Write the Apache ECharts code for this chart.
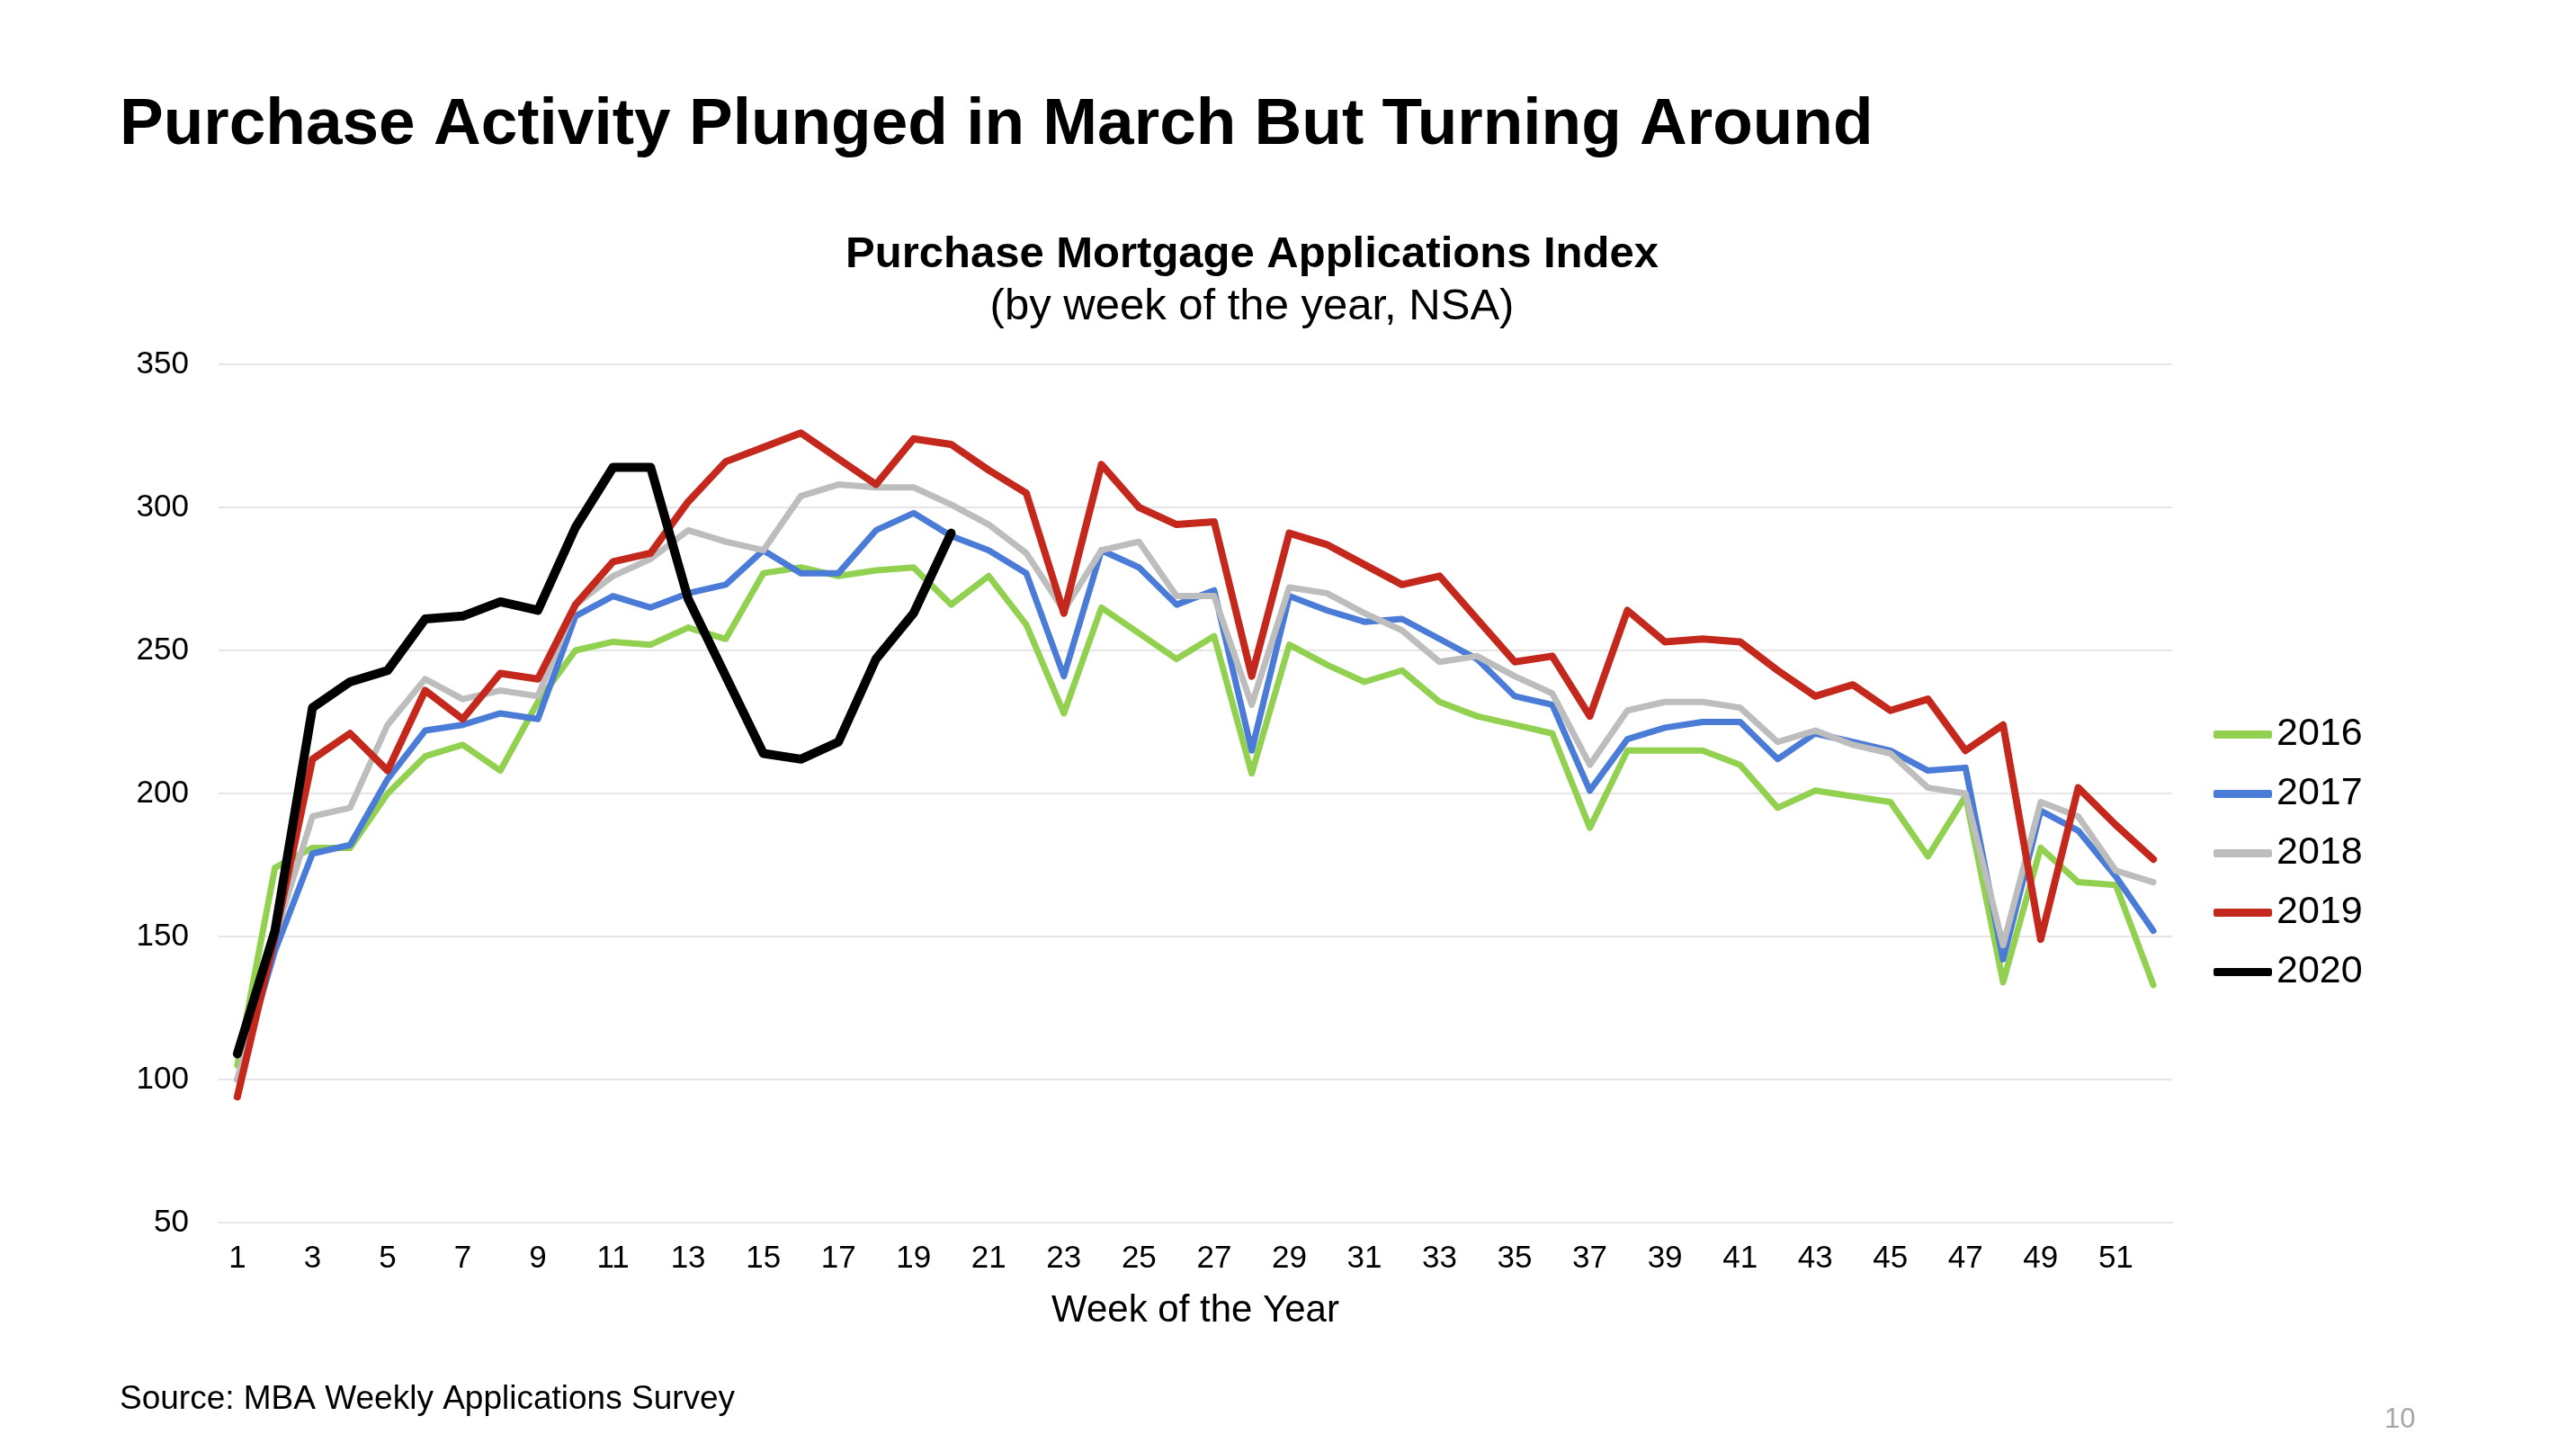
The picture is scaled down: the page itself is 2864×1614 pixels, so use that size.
<!DOCTYPE html>
<html>
<head>
<meta charset="utf-8">
<script src="https://cdn.jsdelivr.net/npm/echarts@6/dist/echarts.min.js"></script>
<style>
html,body{margin:0;padding:0;background:#fff;}
#chart{width:2864px;height:1614px;}
</style>
</head>
<body>
<div id="chart"></div>
<script>
const weeks = ['1','2','3','4','5','6','7','8','9','10','11','12','13','14','15','16','17','18','19','20','21','22','23','24','25','26','27','28','29','30','31','32','33','34','35','36','37','38','39','40','41','42','43','44','45','46','47','48','49','50','51','52'];
const yTicks = [50, 100, 150, 200, 250, 300, 350];
const seriesNames = ['2016', '2017', '2018', '2019', '2020'];

const d2016 = [105,174,181,181,200,213,217,208,232,250, 253,252,258,254,277,279,276,278,279,266, 276,259,228,265,256,247,255,207,252,245, 239,243,232,227,224,221,188,215,215,215, 210,195,201,199,197,178,199,134,181,169, 168,133];
const d2017 = [100,145,179,182,205,222,224,228,226,262, 269,265,270,273,285,277,277,292,298,290, 285,277,241,285,279,266,271,215,269,264, 260,261,254,247,234,231,201,219,223,225, 225,212,221,218,215,208,209,142,194,187, 171,152];
const d2018 = [100,150,192,195,224,240,233,236,234,266, 276,282,292,288,285,304,308,307,307,301, 294,284,264,285,288,269,269,231,272,270, 263,257,246,248,241,235,210,229,232,232, 230,218,222,217,214,202,200,147,197,192, 173,169];
const d2019 = [94,150,212,221,208,236,226,242,240,266, 281,284,302,316,321,326,317,308,324,322, 313,305,263,315,300,294,295,241,291,287, 280,273,276,261,246,248,227,264,253,254, 253,243,234,238,229,233,215,224,149,202, 189,177];
const d2020 = [109,152,230,239,243,261,262,267,264,293, 314,314,268,241,214,212,218,247,263,291];

const seriesData = [d2016, d2017, d2018, d2019, d2020];
const colors = ['#92D050', '#4A7BD6', '#BDBDBD', '#C4281C', '#000000'];
const widths = [7, 7, 7, 8, 10];

const FONT = "'Liberation Sans', Arial, Helvetica, sans-serif";
const chart = echarts.init(document.getElementById('chart'), null, {renderer: 'canvas'});

const option = {
  backgroundColor: '#ffffff',
  animation: false,
  textStyle: {fontFamily: FONT, color: '#000'},
  title: [
    {text: 'Purchase Activity Plunged in March But Turning Around', left: 128, top: 98,
     textStyle: {fontFamily: FONT, fontSize: 73, fontWeight: 'bold', color: '#000'}},
    {text: 'Purchase Mortgage Applications Index', left: 1387, top: 254, textAlign: 'center',
     textStyle: {fontFamily: FONT, fontSize: 49, fontWeight: 'bold', color: '#000'}},
    {text: '(by week of the year, NSA)', left: 1387, top: 312, textAlign: 'center',
     textStyle: {fontFamily: FONT, fontSize: 49, fontWeight: 'normal', color: '#000'}},
    {text: 'Source: MBA Weekly Applications Survey', left: 128, top: 1532,
     textStyle: {fontFamily: FONT, fontSize: 37, fontWeight: 'normal', color: '#000'}},
    {text: '10', left: 2646, top: 1558,
     textStyle: {fontFamily: FONT, fontSize: 31, fontWeight: 'normal', color: '#A6A6A6'}}
  ],
  legend: {
    orient: 'vertical',
    left: 2456,
    top: 790,
    icon: 'roundRect',
    itemWidth: 65,
    itemHeight: 9,
    itemGap: 23,
    data: seriesNames,
    textStyle: {fontFamily: FONT, fontSize: 43, color: '#000', lineHeight: 43}
  },
  grid: {left: 243, right: 449, top: 405, bottom: 255, containLabel: false},
  xAxis: {
    type: 'category',
    data: weeks,
    boundaryGap: true,
    name: 'Week of the Year',
    nameLocation: 'middle',
    nameGap: 77,
    nameTextStyle: {fontFamily: FONT, fontSize: 42, color: '#000'},
    axisTick: {show: false},
    axisLine: {show: true, lineStyle: {color: '#E6E6E6', width: 2}},
    axisLabel: {interval: 1, fontFamily: FONT, fontSize: 35, color: '#000', margin: 23}
  },
  yAxis: {
    type: 'value',
    min: yTicks[0],
    max: yTicks[yTicks.length - 1],
    interval: 50,
    axisLine: {show: false},
    axisTick: {show: false},
    splitLine: {show: true, lineStyle: {color: '#E6E6E6', width: 2}},
    axisLabel: {fontFamily: FONT, fontSize: 35, color: '#000', margin: 33}
  },
  series: seriesNames.map((name, i) => ({
    name: name,
    type: 'line',
    data: seriesData[i],
    showSymbol: false,
    symbol: 'none',
    smooth: false,
    z: 2 + i,
    color: colors[i],
    lineStyle: {color: colors[i], width: widths[i], join: 'round', cap: 'round'},
    itemStyle: {color: colors[i]}
  }))
};
chart.setOption(option);
</script>
</body>
</html>
